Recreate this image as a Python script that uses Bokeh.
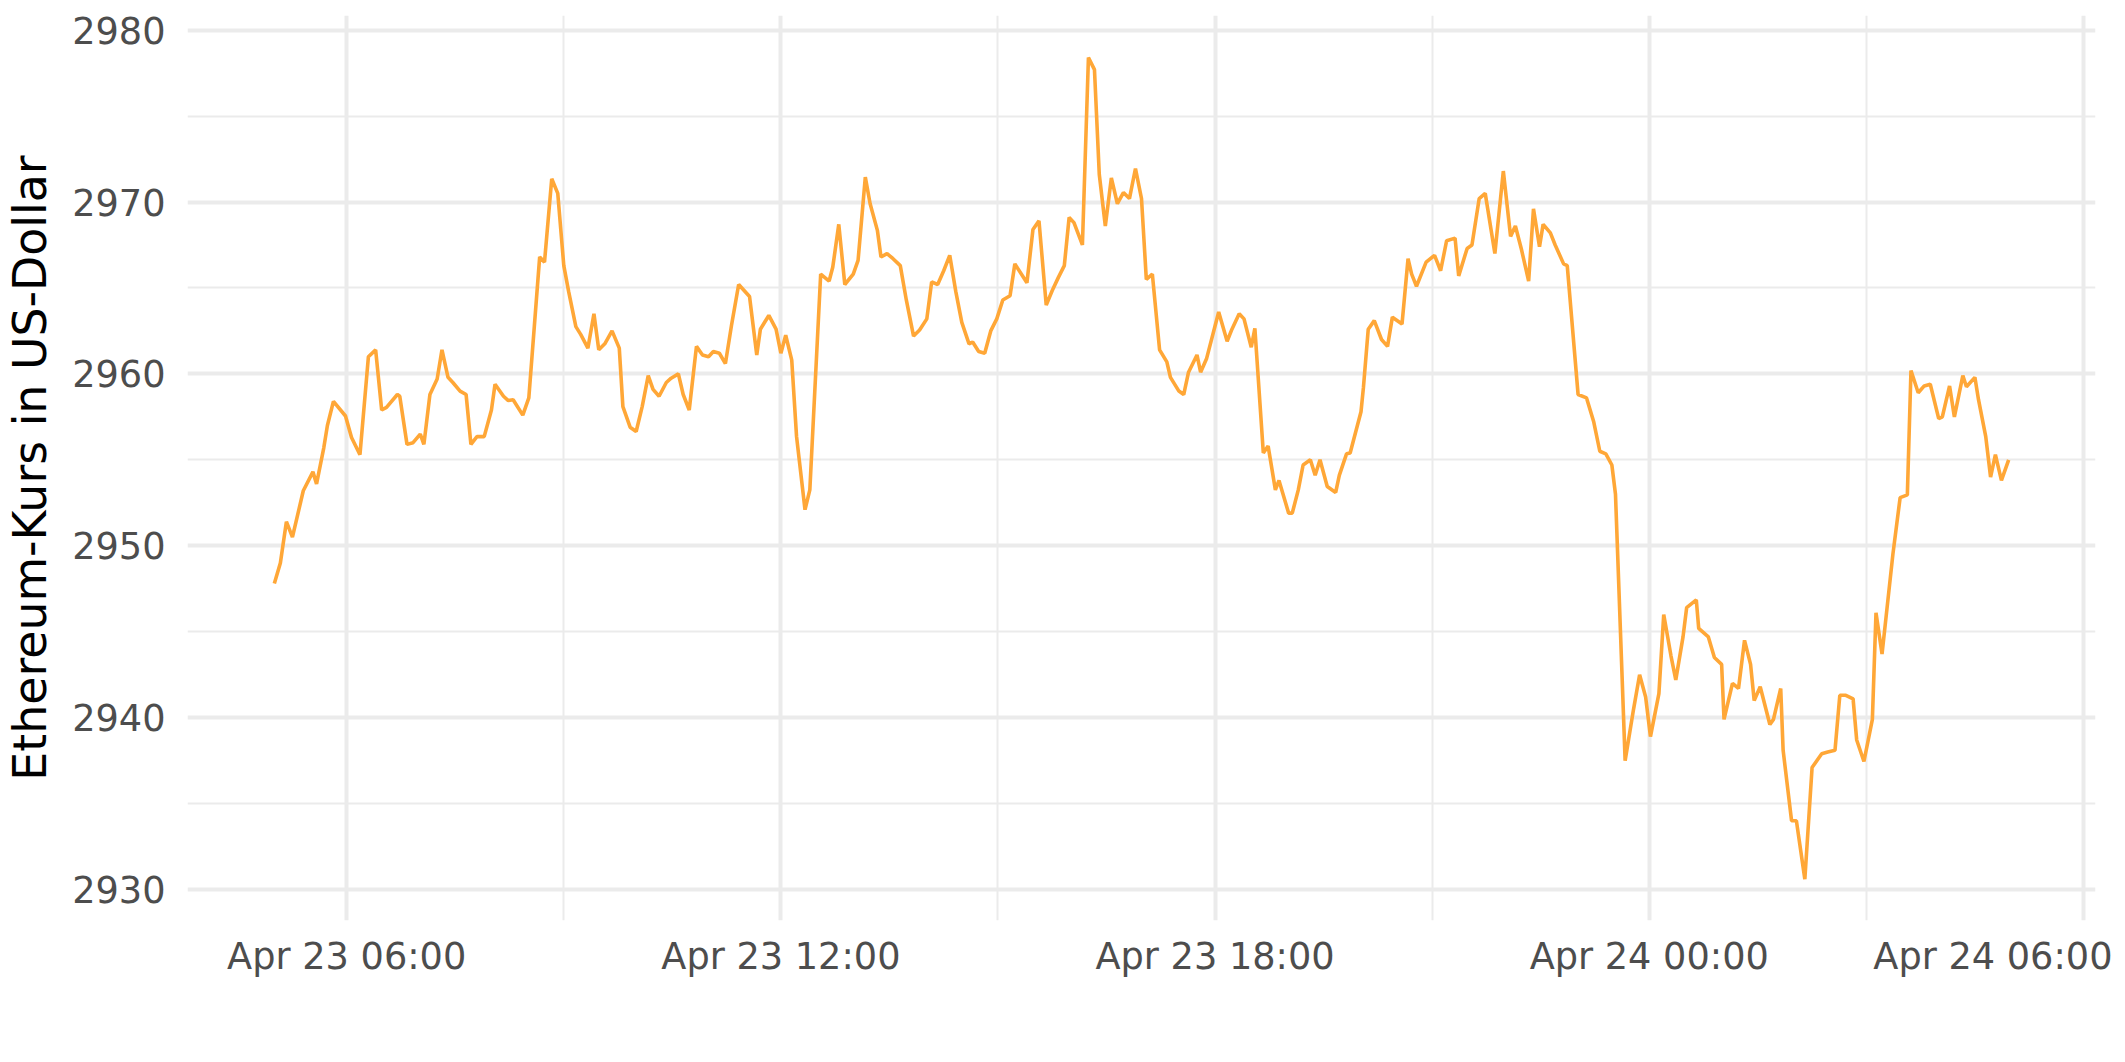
import pandas as pd
from bokeh.plotting import figure
from bokeh.models import Range1d, FixedTicker, DatetimeTickFormatter, ColumnDataSource
from bokeh.embed import file_html
from bokeh.resources import INLINE

START = "2022-04-23 05:00"

# minutes after START
minutes = [
    0, 5, 10, 15, 24, 32, 35, 41, 44, 49,
    59, 64, 71, 78, 84, 89, 93, 102, 104, 110,
    115, 121, 124, 129, 135, 139, 144, 148, 154, 159,
    163, 168, 174, 180, 183, 190, 194, 198, 206, 211,
    220, 224, 230, 235, 240, 244, 250, 254, 260, 265,
    269, 274, 280, 286, 289, 295, 300, 305, 310, 314,
    319, 325, 329, 335, 339, 344, 350, 355, 360, 364,
    369, 374, 379, 385, 394, 400, 403, 410, 416, 420,
    424, 429, 433, 440, 444, 453, 460, 463, 468, 473,
    480, 484, 490, 494, 500, 503, 508, 513, 519, 524,
    530, 535, 541, 545, 550, 555, 560, 565, 570, 576,
    579, 584, 589, 594, 599, 604, 610, 614, 624, 629,
    634, 640, 645, 650, 655, 659, 663, 670, 675, 680,
    684, 689, 694, 699, 704, 709, 714, 719, 723, 728,
    734, 740, 743, 750, 754, 758, 765, 768, 773, 783,
    790, 794, 800, 804, 810, 813, 820, 824, 830, 833,
    841, 844, 849, 853, 859, 863, 867, 873, 880, 883,
    889, 892, 901, 903, 907, 912, 918, 923, 927, 935,
    940, 943, 947, 955, 962, 967, 972, 979, 982, 989,
    993, 999, 1004, 1012, 1019, 1025, 1029, 1034, 1040, 1044,
    1049, 1052, 1058, 1062, 1069, 1072, 1081, 1088, 1094, 1099,
    1104, 1109, 1112, 1120, 1127, 1132, 1137, 1141, 1148, 1152,
    1158, 1162, 1168, 1171, 1179, 1181, 1189, 1194, 1200, 1202,
    1209, 1214, 1219, 1224, 1227, 1232, 1240, 1243, 1249, 1251,
    1258, 1262, 1269, 1275, 1283, 1288, 1294, 1298, 1303, 1309,
    1312, 1318, 1325, 1328, 1333, 1342, 1348, 1354, 1357, 1363,
    1368, 1373, 1380, 1383, 1389, 1393, 1400, 1403, 1410, 1413,
    1419, 1423, 1427, 1432, 1438,
]

price = [
    2947.8, 2949.0, 2951.4, 2950.5, 2953.2, 2954.3, 2953.6, 2955.7, 2957.0, 2958.4,
    2957.55, 2956.3, 2955.3, 2961.0, 2961.4, 2957.9, 2958.05, 2958.8, 2958.7, 2955.9,
    2956.0, 2956.5, 2955.9, 2958.8, 2959.7, 2961.4, 2959.8, 2959.5, 2959.0, 2958.8,
    2955.9, 2956.35, 2956.35, 2957.9, 2959.4, 2958.7, 2958.45, 2958.5, 2957.6, 2958.6,
    2966.8, 2966.5, 2971.35, 2970.5, 2966.3, 2964.8, 2962.75, 2962.3, 2961.5, 2963.5,
    2961.4, 2961.75, 2962.5, 2961.5, 2958.1, 2956.9, 2956.65, 2958.1, 2959.9, 2959.1,
    2958.7, 2959.5, 2959.75, 2960.0, 2958.8, 2957.9, 2961.6, 2961.1, 2961.0, 2961.3,
    2961.2, 2960.6, 2962.8, 2965.2, 2964.5, 2961.1, 2962.6, 2963.4, 2962.6, 2961.2,
    2962.25, 2960.8, 2956.35, 2952.1, 2953.25, 2965.8, 2965.4, 2966.2, 2968.7, 2965.2,
    2965.8, 2966.6, 2971.45, 2969.9, 2968.35, 2966.8, 2967.0, 2966.7, 2966.3, 2964.3,
    2962.2, 2962.55, 2963.2, 2965.35, 2965.2, 2966.0, 2966.9, 2964.8, 2963.0, 2961.75,
    2961.85, 2961.3, 2961.2, 2962.5, 2963.2, 2964.3, 2964.55, 2966.4, 2965.3, 2968.4,
    2968.9, 2964.0, 2964.85, 2965.6, 2966.3, 2969.1, 2968.8, 2967.5, 2978.4, 2977.7,
    2971.6, 2968.6, 2971.4, 2969.9, 2970.55, 2970.2, 2971.95, 2970.2, 2965.5, 2965.8,
    2961.4, 2960.7, 2959.8, 2959.0, 2958.8, 2960.1, 2961.1, 2960.1, 2960.9, 2963.6,
    2961.9, 2962.6, 2963.5, 2963.2, 2961.55, 2962.65, 2955.4, 2955.8, 2953.25, 2953.8,
    2951.9, 2951.9, 2953.25, 2954.7, 2955.0, 2954.1, 2955.0, 2953.45, 2953.1, 2954.1,
    2955.35, 2955.4, 2957.8, 2959.2, 2962.6, 2963.1, 2962.0, 2961.6, 2963.3, 2962.9,
    2966.7, 2965.8, 2965.1, 2966.5, 2966.9, 2966.0, 2967.75, 2967.9, 2965.7, 2967.3,
    2967.5, 2970.2, 2970.5, 2967.0, 2971.8, 2968.0, 2968.6, 2967.25, 2965.4, 2969.6,
    2967.4, 2968.7, 2968.2, 2967.5, 2966.4, 2966.3, 2958.8, 2958.6, 2957.2, 2955.5,
    2955.35, 2954.7, 2953.0, 2937.5, 2940.5, 2942.5, 2941.2, 2938.9, 2941.4, 2946.0,
    2943.6, 2942.2, 2944.7, 2946.4, 2946.85, 2945.2, 2944.7, 2943.5, 2943.1, 2939.9,
    2942.0, 2941.7, 2944.5, 2943.1, 2941.0, 2941.8, 2939.6, 2939.9, 2941.7, 2938.1,
    2934.0, 2934.0, 2930.6, 2937.1, 2937.9, 2938.0, 2938.1, 2941.3, 2941.3, 2941.1,
    2938.7, 2937.45, 2939.9, 2946.1, 2943.7, 2949.5, 2952.8, 2952.96, 2960.2, 2958.9,
    2959.3, 2959.4, 2957.4, 2957.5, 2959.3, 2957.5, 2959.9, 2959.25, 2959.8, 2958.5,
    2956.35, 2954.0, 2955.3, 2953.8, 2955.0,
]

x_major = ["2022-04-23 06:00", "2022-04-23 12:00", "2022-04-23 18:00",
           "2022-04-24 00:00", "2022-04-24 06:00"]
x_minor = ["2022-04-23 09:00", "2022-04-23 15:00", "2022-04-23 21:00",
           "2022-04-24 03:00"]
y_major = [2930, 2940, 2950, 2960, 2970, 2980]
y_minor = [2935, 2945, 2955, 2965, 2975]
y_title = "Ethereum-Kurs in US-Dollar"
fmt = "%b %d %H:%M"


def ms(ts):
    return pd.Timestamp(ts).value / 1e6


t0 = pd.Timestamp(START)
times = [t0 + pd.Timedelta(minutes=m) for m in minutes]
src = ColumnDataSource(dict(time=times, price=price))

W, H = 2112, 1040
FRAME_L, FRAME_R, FRAME_T, FRAME_B = 187, 2095, 15, 920

p = figure(
    width=W, height=H, output_backend="svg", toolbar_location=None,
    x_axis_type="datetime",
    x_range=Range1d(ms(t0 - pd.Timedelta(minutes=72)), ms(t0 + pd.Timedelta(minutes=1510))),
    y_range=Range1d(2928.2, 2980.85),
    min_border_left=FRAME_L, min_border_right=W - FRAME_R,
    min_border_top=FRAME_T, min_border_bottom=H - FRAME_B,
)
p.outline_line_color = None
p.background_fill_color = "white"
p.border_fill_color = "white"

p.line("time", "price", source=src, line_color="#FFA737", line_width=3.6)

p.xaxis.ticker = FixedTicker(ticks=[ms(s) for s in x_major],
                             minor_ticks=[ms(s) for s in x_minor])
p.xaxis.formatter = DatetimeTickFormatter(hours=fmt, hourmin=fmt, days=fmt,
                                          minutes=fmt, minsec=fmt, months=fmt)
p.yaxis.ticker = FixedTicker(ticks=y_major, minor_ticks=y_minor)

for ax in (p.xaxis[0], p.yaxis[0]):
    ax.axis_line_color = None
    ax.major_tick_line_color = None
    ax.minor_tick_line_color = None
    ax.major_label_text_font = "DejaVu Sans"
    ax.major_label_text_font_size = "36.7px"
    ax.major_label_text_color = "#4D4D4D"

p.xaxis.major_label_standoff = 8
p.yaxis.major_label_standoff = 16
p.yaxis.axis_label = y_title
p.yaxis.axis_label_text_font = "DejaVu Sans"
p.yaxis.axis_label_text_font_size = "45.8px"
p.yaxis.axis_label_text_font_style = "normal"
p.yaxis.axis_label_text_color = "black"
p.yaxis.axis_label_standoff = 12

for g in (p.xgrid[0], p.ygrid[0]):
    g.grid_line_color = "#EBEBEB"
    g.grid_line_width = 4
    g.minor_grid_line_color = "#EBEBEB"
    g.minor_grid_line_width = 2

open("out.html", "w").write(file_html(p, INLINE))
